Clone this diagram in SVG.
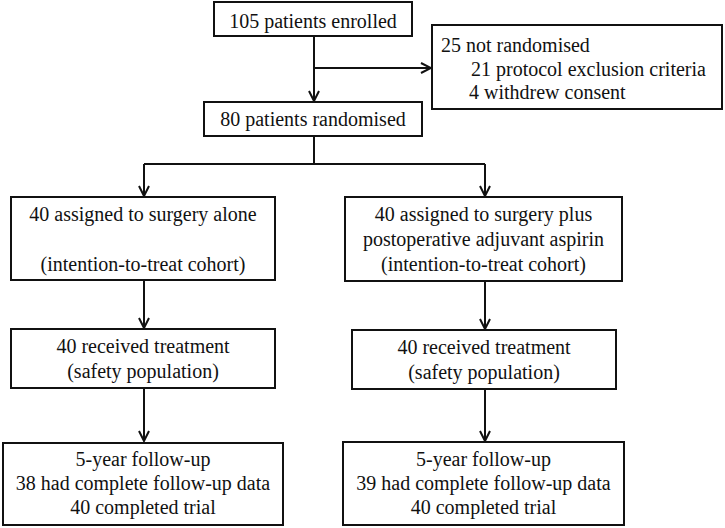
<svg xmlns="http://www.w3.org/2000/svg" width="725" height="528" viewBox="0 0 725 528">
<style>
.box{fill:#fff;stroke:#111;stroke-width:2}
text{font-family:'Liberation Serif','Times New Roman','DejaVu Serif',Times,serif;font-size:20px;fill:#111}
.c{text-anchor:middle}
.ln{fill:none;stroke:#111;stroke-width:2}
</style>
<defs>
<marker id="arr" viewBox="0 0 12 12" refX="11" refY="6" markerWidth="12" markerHeight="12" markerUnits="userSpaceOnUse" orient="auto">
<path d="M1,1 L11,6 L1,11" fill="none" stroke="#111" stroke-width="2"/>
</marker>
</defs>
<rect width="725" height="528" fill="#fff"/>
<g id="connectors">
<path class="ln" d="M314,36 V101" marker-end="url(#arr)"/>
<path class="ln" d="M314,68 H431" marker-end="url(#arr)"/>
<path class="ln" d="M314,136 V164 M144,164 H485"/>
<path class="ln" d="M144,164 V196" marker-end="url(#arr)"/>
<path class="ln" d="M485,164 V196" marker-end="url(#arr)"/>
<path class="ln" d="M144,280 V328" marker-end="url(#arr)"/>
<path class="ln" d="M485,281 V329" marker-end="url(#arr)"/>
<path class="ln" d="M144,388 V441" marker-end="url(#arr)"/>
<path class="ln" d="M485,389 V441" marker-end="url(#arr)"/>
</g>
<g id="enrolled">
<rect class="box" x="214" y="2" width="198" height="34"/>
<text class="c" x="313" y="28" font-family="Liberation Serif, serif">105 patients enrolled</text>
</g>
<g id="not-randomised">
<rect class="box" x="432" y="25" width="290" height="84"/>
<text x="441" y="52">25 not randomised</text>
<text x="471" y="76">21 protocol exclusion criteria</text>
<text x="469" y="99">4 withdrew consent</text>
</g>
<g id="randomised">
<rect class="box" x="204" y="102" width="218" height="34"/>
<text class="c" x="313" y="126">80 patients randomised</text>
</g>
<g id="surgery-alone">
<rect class="box" x="11" y="197" width="264" height="83"/>
<text class="c" x="143" y="221">40 assigned to surgery alone</text>
<text class="c" x="143" y="271">(intention-to-treat cohort)</text>
</g>
<g id="surgery-aspirin">
<rect class="box" x="345" y="197" width="277" height="84"/>
<text class="c" x="483.5" y="221">40 assigned to surgery plus</text>
<text class="c" x="483.5" y="246">postoperative adjuvant aspirin</text>
<text class="c" x="483.5" y="271">(intention-to-treat cohort)</text>
</g>
<g id="treated-left">
<rect class="box" x="11" y="329" width="264" height="59"/>
<text class="c" x="143" y="353">40 received treatment</text>
<text class="c" x="143" y="378">(safety population)</text>
</g>
<g id="treated-right">
<rect class="box" x="352" y="330" width="264" height="59"/>
<text class="c" x="484" y="354">40 received treatment</text>
<text class="c" x="484" y="379">(safety population)</text>
</g>
<g id="followup-left">
<rect class="box" x="3" y="443" width="280" height="82"/>
<text class="c" x="143" y="466">5-year follow-up</text>
<text class="c" x="143" y="490">38 had complete follow-up data</text>
<text class="c" x="143" y="514">40 completed trial</text>
</g>
<g id="followup-right">
<rect class="box" x="343" y="442" width="281" height="83"/>
<text class="c" x="483.5" y="466">5-year follow-up</text>
<text class="c" x="483.5" y="490">39 had complete follow-up data</text>
<text class="c" x="483.5" y="514">40 completed trial</text>
</g>
</svg>
